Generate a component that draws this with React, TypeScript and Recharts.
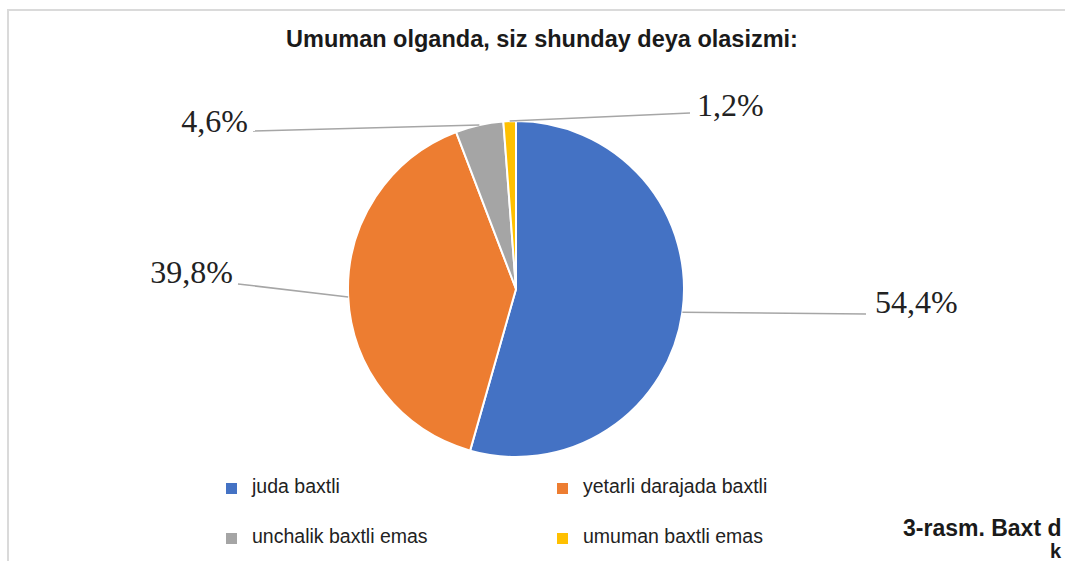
import React from 'react';
import { PieChart, Pie, Cell, Legend } from 'recharts';

// answer categories and their shares (%)
const categories = ['juda baxtli', 'yetarli darajada baxtli', 'unchalik baxtli emas', 'umuman baxtli emas'];
const shares = [54.4, 39.8, 4.6, 1.2];
const colors = ['#4472C4', '#ED7D31', '#A5A5A5', '#FFC000'];

const chartData = categories.map((name, i) => ({ name, value: shares[i] }));

// label placement relative to the pie centre (Excel-style manual labels)
// edgeAngle: where the leader line touches the pie; null = slice mid angle
const LABEL_LAYOUT = [
  { tx: 359, ty: 24, anchor: 'start', lx: 350, ly: 25, edgeAngle: null },
  { tx: -283, ty: -6, anchor: 'end', lx: -278, ly: -5, edgeAngle: 182.7 },
  { tx: -268, ty: -157, anchor: 'end', lx: -263, ly: -158, edgeAngle: null },
  { tx: 181, ty: -173, anchor: 'start', lx: 174, ly: -176, edgeAngle: null },
];

const RAD = Math.PI / 180;
const fmt = (v: number) => v.toFixed(1).replace('.', ',') + '%';

const renderLabel = (props: any) => {
  const { cx, cy, outerRadius, midAngle, index, value } = props;
  const cfg = LABEL_LAYOUT[index];
  const ang = cfg.edgeAngle ?? midAngle;
  const ex = cx + outerRadius * Math.cos(-ang * RAD);
  const ey = cy + outerRadius * Math.sin(-ang * RAD);
  return (
    <g key={`lbl-${index}`}>
      <line x1={ex} y1={ey} x2={cx + cfg.lx} y2={cy + cfg.ly} stroke="#A6A6A6" strokeWidth={1.5} />
      <text
        x={cx + cfg.tx}
        y={cy + cfg.ty}
        textAnchor={cfg.anchor as any}
        fontFamily="'Liberation Serif', 'Times New Roman', serif"
        fontSize={32}
        fill="#222"
      >
        {fmt(value)}
      </text>
    </g>
  );
};

const renderLegend = (props: any) => {
  // keep the data order (Recharts sorts legend items by name otherwise)
  const payload = [...(props.payload || [])].sort(
    (a: any, b: any) => categories.indexOf(a.value) - categories.indexOf(b.value)
  );
  return (
    <div style={{ position: 'relative', width: 640, height: 100 }}>
      {payload.map((entry: any, i: number) => (
        <div
          key={entry.value}
          style={{
            position: 'absolute',
            left: (i % 2) * 331,
            top: Math.floor(i / 2) * 50,
            height: 50,
            display: 'flex',
            alignItems: 'center',
            fontFamily: "'Liberation Sans', Arial, sans-serif",
            fontSize: 19.5,
            color: '#222',
            whiteSpace: 'nowrap',
          }}
        >
          <span
            style={{
              display: 'inline-block',
              width: 11,
              height: 11,
              marginTop: 5,
              marginRight: 15,
              background: entry.color,
            }}
          />
          {entry.value}
        </div>
      ))}
    </div>
  );
};

const captionStyle: React.CSSProperties = {
  position: 'absolute',
  fontFamily: "'Liberation Sans', Arial, sans-serif",
  fontWeight: 'bold',
  fontSize: 23,
  lineHeight: 1,
  color: '#1a1a1a',
  whiteSpace: 'nowrap',
};

export default function App() {
  return (
    <div
      style={{
        position: 'absolute',
        left: 0,
        top: 0,
        width: 1065,
        height: 561,
        overflow: 'hidden',
        background: '#fff',
      }}
    >
      {/* frame */}
      <div
        style={{
          position: 'absolute',
          left: 7,
          top: 9,
          width: 1100,
          height: 600,
          borderTop: '2px solid #DADADA',
          borderLeft: '2px solid #DADADA',
        }}
      />

      <div
        style={{
          position: 'absolute',
          left: 0,
          top: 28.4,
          width: 1084,
          textAlign: 'center',
          fontFamily: "'Liberation Sans', Arial, sans-serif",
          fontWeight: 'bold',
          fontSize: 23.5,
          lineHeight: 1,
          color: '#1a1a1a',
        }}
      >
        Umuman olganda, siz shunday deya olasizmi:
      </div>

      <div style={{ position: 'absolute', left: 0, top: 0 }}>
        <PieChart width={1065} height={561} margin={{ top: 0, right: 0, bottom: 0, left: 0 }}>
          <Pie
            data={chartData}
            dataKey="value"
            nameKey="name"
            cx={516}
            cy={289}
            outerRadius={168}
            startAngle={90}
            endAngle={-270}
            stroke="#fff"
            strokeWidth={2}
            label={renderLabel}
            labelLine={false}
            isAnimationActive={false}
          >
            {chartData.map((d, i) => (
              <Cell key={d.name} fill={colors[i]} />
            ))}
          </Pie>
          <Legend
            content={renderLegend}
            wrapperStyle={{ position: 'absolute', left: 226, top: 461, width: 640, height: 100 }}
          />
        </PieChart>
      </div>

      {/* figure caption, only its start is visible at the picture edge */}
      <div style={{ ...captionStyle, left: 903, top: 516.5 }}>3-rasm. Baxt d</div>
      <div style={{ ...captionStyle, left: 1050, top: 540.5, fontSize: 20 }}>k</div>
    </div>
  );
}
